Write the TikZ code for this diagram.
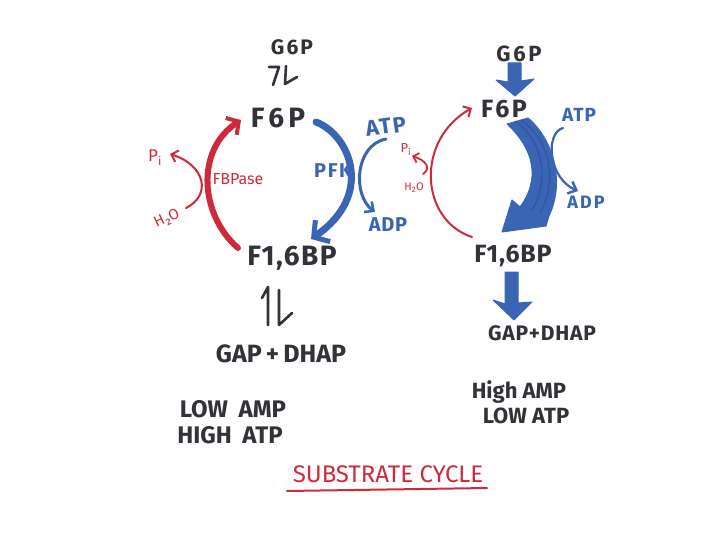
\documentclass[tikz,border=0pt]{standalone}
\usepackage{fontspec}
\setmainfont{Fira Sans}
\usetikzlibrary{arrows.meta}
\definecolor{inkc}{RGB}{50,50,56}
\definecolor{mblue}{RGB}{58,100,180}
\definecolor{dblue}{RGB}{40,72,140}
\definecolor{mred}{RGB}{206,42,60}
\newcommand\hsz[1]{\fontsize{#1}{#1}\selectfont}
\newcommand\lsp[1]{\addfontfeature{LetterSpace=#1}}
\tikzset{
  lbl/.style={text=inkc, inner sep=0pt, anchor=base},
  blbl/.style={text=mblue, inner sep=0pt, anchor=base},
  rlbl/.style={text=mred, inner sep=0pt, anchor=base},
  thickred/.style={draw=mred, line width=6pt, line cap=round, -{Straight Barb[length=9pt,width=20pt,line width=4pt]}},
  thinred/.style={draw=mred, line width=2pt, line cap=round, -{Straight Barb[length=6pt,width=12pt,line width=2pt]}},
  thickblue/.style={draw=mblue, line width=7pt, line cap=round, -{Straight Barb[length=11pt,width=26pt,line width=5pt]}},
  thinblue/.style={draw=mblue, line width=3pt, line cap=round, -{Straight Barb[length=7pt,width=13pt,line width=2.5pt]}},
  harp/.style={draw=inkc, line width=2.6pt, line cap=round, line join=round},
  fatarrow/.style={fill=mblue, draw=mblue, line width=1pt, line join=round},
}
\begin{document}
\begin{tikzpicture}[x=1pt,y=-1pt]
\useasboundingbox (0,0) rectangle (720,540);
\fill[white] (0,0) rectangle (720,540);

% ---------------- left panel ----------------
\node[lbl, font=\hsz{21}\bfseries\lsp{10}] (g6pL) at (292,55) {G6P};
\path[harp] (269,67) -- (279,67) -- (273,85);
\path[harp] (286,66) -- (285,84) -- (297,77);
\node[lbl, font=\hsz{28}\bfseries\lsp{15}] (f6pL) at (278,128) {F6P};
\node[lbl, font=\hsz{28}\bfseries\lsp{5}] (fbpL) at (292,265) {F1,6BP};

% FBPase (red) arc
\coordinate (rL1) at (238,248);
\coordinate (rL2) at (241,120);
\draw[thickred] (rL1) .. controls (200,215) and (195,150) .. (rL2);
\coordinate (h2oLe) at (186,208);
\coordinate (piLe) at (170,154);
\draw[thinred] (h2oLe) .. controls (212,195) and (205,165) .. (piLe);
\node[rlbl, font=\hsz{17}] (piL) at (155,162) {P\textsubscript{i}};
\node[text=mred, inner sep=0pt, font=\hsz{15}, rotate=25] (h2oL) at (167,219) {H₂O};
\node[rlbl, font=\hsz{16}] (fbpase) at (238,185) {FBPase};

% PFK (blue) arc
\coordinate (bL1) at (316,122);
\coordinate (bL2) at (311,239);
\draw[thickblue] (bL1) .. controls (350,135) and (375,195) .. (bL2);
\coordinate (atpLe) at (386,139);
\coordinate (adpLe) at (375,212);
\draw[thinblue] (atpLe) .. controls (355,145) and (352,195) .. (adpLe);
\node[blbl, font=\hsz{22}\bfseries\lsp{8}, rotate=8] (atpL) at (387,134) {ATP};
\node[blbl, font=\hsz{20}\bfseries\lsp{8}] (pfk) at (333,178) {PFK};
\node[blbl, font=\hsz{20}\bfseries\lsp{3}] (adpL) at (388,232) {ADP};

% below
\path[harp] (268,325) -- (268,287) -- (262,298);
\path[harp] (279,290) -- (279,325) -- (292,313);
\node[lbl, font=\hsz{25}\bfseries] (gapL) at (281,362) {GAP\,+\,DHAP};
\node[lbl, font=\hsz{24}\bfseries] (lowamp) at (233,417) {LOW\;\,AMP};
\node[lbl, font=\hsz{24}\bfseries] (highatp) at (230,443) {HIGH\;\,ATP};

% ---------------- right panel ----------------
\node[lbl, font=\hsz{22}\bfseries\lsp{12}] (g6pR) at (519,62) {G6P};
\path[fatarrow] (508,63) -- (521,63) -- (521,81) -- (534,79) -- (515,96) -- (496,80) -- (508,82) -- cycle;
\node[lbl, font=\hsz{25}\bfseries\lsp{10}] (f6pR) at (504,118) {F6P};

% thick crescent arrow
\path[fatarrow] (528,118) .. controls (552,138) and (566,180) .. (549,216)
  -- (546,226) -- (502,232) -- (512,200) -- (520,207)
  .. controls (540,180) and (535,150) .. (507,124) -- cycle;
\draw[dblue, line width=1.1pt, opacity=0.6] (515,121) .. controls (543,140) and (550,180) .. (532,210);
\draw[dblue, line width=1.1pt, opacity=0.5] (521,120) .. controls (550,140) and (558,180) .. (540,213);

\coordinate (atpRe) at (563,128);
\coordinate (adpRe) at (578,191);
\draw[thinblue, line width=2.2pt] (atpRe) .. controls (545,133) and (548,178) .. (adpRe);
\node[blbl, font=\hsz{19}\bfseries\lsp{5}] (atpR) at (579,122) {ATP};
\node[blbl, font=\hsz{18}\bfseries\lsp{12}] (adpR) at (586,208) {ADP};

% red thin arc right
\coordinate (rR1) at (472,237);
\coordinate (rR2) at (472,108);
\draw[thinred] (rR1) .. controls (420,220) and (415,140) .. (rR2);
\coordinate (h2oRe) at (423,174);
\coordinate (piRe) at (412,156);
\draw[thinred, line width=1.8pt, -{Straight Barb[length=5pt,width=10pt,line width=1.8pt]}] (h2oRe) .. controls (432,168) and (425,160) .. (piRe);
\node[rlbl, font=\hsz{13}] (piR) at (406,153) {P\textsubscript{i}};
\node[rlbl, font=\hsz{11}] (h2oR) at (414,191) {H\textsubscript{2}O};

\node[lbl, font=\hsz{25}\bfseries\lsp{3}] (fbpR) at (513,262) {F1,6BP};
\path[fatarrow] (505,272) -- (518,272) -- (518,303) -- (532,302) -- (514,320) -- (493,300) -- (505,304) -- cycle;
\node[lbl, font=\hsz{21}\bfseries\lsp{4}] (gapR) at (542,340) {GAP+DHAP};
\node[lbl, font=\hsz{22}\bfseries] (highamp) at (519,398) {High AMP};
\node[lbl, font=\hsz{22}\bfseries] (lowatp) at (526,423) {LOW ATP};

% title
\node[rlbl, font=\hsz{24}] (title) at (388,482) {SUBSTRATE CYCLE};
\draw[mred, line width=2pt, line cap=round] (287,491) -- (487,488);
\end{tikzpicture}
\end{document}
